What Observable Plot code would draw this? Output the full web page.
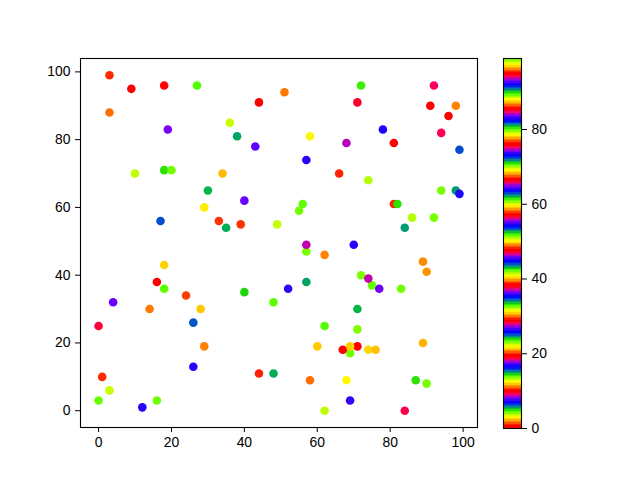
<!DOCTYPE html>
<html>
<head>
<meta charset="utf-8">
<script src="https://cdn.jsdelivr.net/npm/d3@7"></script>
<script src="https://cdn.jsdelivr.net/npm/@observablehq/plot@0.6"></script>
<style>
  body { margin: 0; background: #fff; }
  #chart { position: relative; width: 640px; height: 480px; }
  #chart svg { position: absolute; top: 0; }
</style>
</head>
<body>
<div id="chart"></div>
<script>
// scatter points, in drawing order
const xs = [3, 9, 18, 27, 44, 3, 36, 19, 38, 43, 10, 18, 20, 34, 30, 40, 29, 17, 33, 35, 39,
  51, 72, 92, 71, 91, 98, 96, 78, 58, 68, 81, 94, 99, 57, 66, 74, 94, 98, 99, 56, 55, 49, 81, 82, 86, 92, 84, 57, 57, 70,
  62, 89, 90, 72, 75, 74, 77, 83, 52, 57, 48, 71, 62, 71, 60, 69, 67, 71, 69, 74, 76, 89, 48, 58, 68, 87, 90, 69, 62, 84,
  18, 16, 18, 24, 4, 14, 28, 0, 26, 29, 40, 26, 44, 1, 3, 0, 12, 16]
const ys = [99, 95, 96, 96, 91, 88, 85, 83, 81, 78, 70, 71, 71, 70, 65, 62, 60, 56, 56, 54, 55,
  94, 96, 96, 91, 90, 90, 87, 83, 81, 79, 79, 82, 77, 74, 70, 68, 65, 65, 64, 61, 59, 55, 61, 61, 57, 57, 54, 47, 49, 49,
  46, 44, 41, 40, 37, 39, 36, 36, 36, 38, 32, 30, 25, 24, 19, 17, 18, 19, 19, 18, 18, 20, 11, 9, 9, 9, 8, 3, 0, 0,
  43, 38, 36, 34, 32, 30, 30, 25, 26, 19, 35, 13, 11, 10, 6, 3, 1, 3]
// colour values (prism colormap repeats)
const cs = [20, 19, 38, 99, 57, 11, 13, 93, 62, 36, 32, 5, 42, 21, 24, 55, 12, 91, 86, 43, 39,
  30, 14, 9, 85, 76, 96, 95, 7, 3, 18, 29, 28, 44, 17, 48, 51, 70, 81, 26, 80, 89, 13, 1, 52, 51, 23, 81, 70, 37, 45,
  49, 68, 87, 4, 61, 84, 74, 42, 64, 62, 80, 24, 99, 4, 59, 89, 0, 10, 78, 97, 40, 2, 43, 11, 22, 5, 23, 83, 32, 47,
  78, 38, 80, 58, 55, 30, 59, 66, 25, 49, 90, 45, 1, 67, 60, 61, 17, 42]

const xTicks = [0, 20, 40, 60, 80, 100]
const yTicks = [0, 20, 40, 60, 80, 100]
const barTicks = [0, 20, 40, 60, 80]
const cMin = 0, cMax = 99

const points = xs.map((x, i) => ({x: x, y: ys[i], c: cs[i]}))

// matplotlib "prism" with its 256 step lookup table
const prism = t => {
  const v = Math.min(Math.floor(t * 256), 255) / 255
  const a = v * 20.9 * Math.PI
  const cl = u => Math.round(255 * Math.max(0, Math.min(1, u)))
  return `rgb(${cl(0.75 * Math.sin(a + Math.PI / 4) + 0.67)},${cl(0.75 * Math.sin(a - Math.PI / 4) + 0.33)},${cl(-1.1 * Math.sin(a))})`
}

const font = {fontFamily: '"Liberation Sans", Arial, sans-serif', fontSize: '13.9px', color: 'black', background: 'white'}
const colorScale = {type: 'linear', domain: [cMin, cMax], interpolate: prism}

let chart = Plot.plot({
  width: 490,
  height: 480,
  marginLeft: 80,
  marginRight: 13,
  marginTop: 58,
  marginBottom: 53,
  style: font,
  x: {domain: [-4.95, 103.95]},
  y: {domain: [-4.95, 103.95]},
  color: colorScale,
  marks: [
    Plot.dot(points, {x: 'x', y: 'y', fill: 'c', r: 4.3}),
    Plot.frame({stroke: 'black', strokeWidth: 1.1}),
    Plot.axisX({ticks: xTicks, tickSize: 5, tickPadding: 5, label: null}),
    Plot.axisY({ticks: yTicks, tickSize: 5, tickPadding: 5, label: null}),
  ]
})

// colour bar
const levels = d3.range(256).map(i => ({
  lo: cMin + (cMax - cMin) * i / 256,
  hi: cMin + (cMax - cMin) * (i + 1) / 256,
  mid: cMin + (cMax - cMin) * (i + 0.5) / 256
}))

let bar = Plot.plot({
  width: 150,
  height: 480,
  marginLeft: 13,
  marginRight: 119,
  marginTop: 58,
  marginBottom: 52,
  style: font,
  y: {domain: [cMin, cMax]},
  color: colorScale,
  marks: [
    Plot.rect(levels, {y1: 'lo', y2: 'hi', fill: 'mid', shapeRendering: 'crispEdges'}),
    Plot.frame({stroke: 'black', strokeWidth: 1.1}),
    Plot.axisY({anchor: 'right', ticks: barTicks, tickSize: 5, tickPadding: 5, label: null}),
  ]
})

chart.style.left = '0px'
bar.style.left = '490px'
d3.select('#chart').append(() => chart)
d3.select('#chart').append(() => bar)
</script>
</body>
</html>
